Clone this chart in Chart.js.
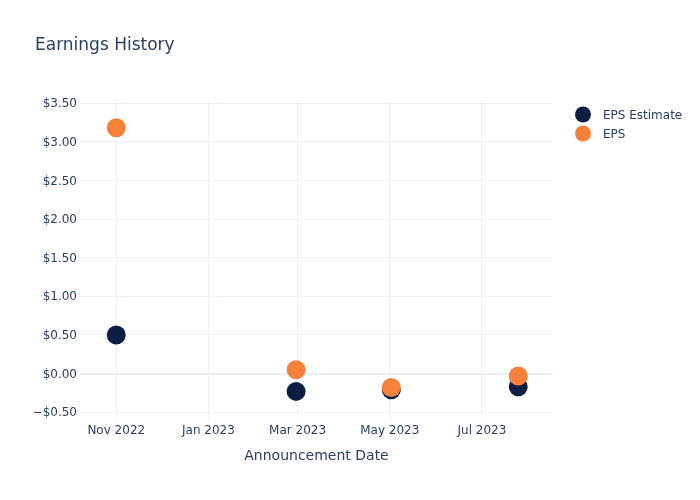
<!DOCTYPE html>
<html lang="en">
<head>
    <meta charset="UTF-8">
    <title>Earnings History</title>
    <script src="https://cdn.jsdelivr.net/npm/chart.js"></script>
    <style>
        body, html {
            margin: 0;
            padding: 0;
            background: #fff;
            overflow: hidden;
        }
        #wrap {
            width: 700px;
            height: 500px;
        }
    </style>
</head>
<body>
    <div id="wrap"><canvas id="epsChart"></canvas></div>

    <script>
        // announcement dates and values
        const estimateDates = ['2022-11-01', '2023-02-28', '2023-05-02', '2023-07-25'];
        const epsEstimate = [0.50, -0.23, -0.21, -0.17];
        const epsDates = ['2022-11-01', '2023-02-28', '2023-05-02', '2023-07-25'];
        const epsActual = [3.18, 0.05, -0.18, -0.03];

        const xTickDates = ['2022-11-01', '2023-01-01', '2023-03-01', '2023-05-01', '2023-07-01'];
        const monthNames = ['Jan', 'Feb', 'Mar', 'Apr', 'May', 'Jun', 'Jul', 'Aug', 'Sep', 'Oct', 'Nov', 'Dec'];
        const yTicks = [-0.5, 0, 0.5, 1, 1.5, 2, 2.5, 3, 3.5];

        const seriesNames = ['EPS Estimate', 'EPS'];
        const seriesColors = ['#0c1f43', '#f7803a'];

        const FONT = "'DejaVu Sans', sans-serif";
        const TEXT = '#2a3f5f';
        const GRID = '#ebf0f8';

        const ts = d => Date.parse(d + 'T00:00:00Z');

        function money(v) {
            const s = '$' + Math.abs(v).toFixed(2);
            return v < 0 ? '\u2212' + s : s;
        }

        function monthLabel(t) {
            const d = new Date(t);
            return monthNames[d.getUTCMonth()] + ' ' + d.getUTCFullYear();
        }

        const headerAndLegend = {
            id: 'headerAndLegend',
            afterDraw(chart) {
                const ctx = chart.ctx;
                ctx.save();
                ctx.fillStyle = TEXT;
                ctx.font = '17px ' + FONT;
                ctx.textBaseline = 'middle';
                ctx.textAlign = 'left';
                ctx.fillText('Earnings History', 35, 45.5);

                ctx.font = '12px ' + FONT;
                seriesNames.forEach((name, i) => {
                    const y = 114.5 + i * 19;
                    ctx.beginPath();
                    ctx.arc(583, y, 8, 0, Math.PI * 2);
                    ctx.fillStyle = seriesColors[i];
                    ctx.fill();
                    ctx.fillStyle = TEXT;
                    ctx.fillText(name, 603, y + 1);
                });
                ctx.restore();
            }
        };

        const ctx = document.getElementById('epsChart').getContext('2d');
        new Chart(ctx, {
            type: 'scatter',
            data: {
                datasets: [{
                    label: seriesNames[0],
                    data: estimateDates.map((d, i) => ({ x: ts(d), y: epsEstimate[i] })),
                    backgroundColor: seriesColors[0],
                    borderWidth: 0,
                    pointRadius: 9.5,
                    pointHoverRadius: 9.5,
                    order: 2
                }, {
                    label: seriesNames[1],
                    data: epsDates.map((d, i) => ({ x: ts(d), y: epsActual[i] })),
                    backgroundColor: seriesColors[1],
                    borderWidth: 0,
                    pointRadius: 9.5,
                    pointHoverRadius: 9.5,
                    order: 1
                }]
            },
            options: {
                responsive: true,
                maintainAspectRatio: false,
                animation: false,
                layout: {
                    padding: { left: 0, right: 147, top: 100, bottom: 0 }
                },
                scales: {
                    x: {
                        type: 'linear',
                        min: ts('2022-10-08'),
                        max: ts('2023-08-17'),
                        afterBuildTicks: axis => {
                            axis.ticks = xTickDates.map(d => ({ value: ts(d) }));
                        },
                        afterFit: axis => { axis.height = 80; },
                        border: { display: false },
                        grid: { color: GRID, drawTicks: false },
                        ticks: {
                            color: TEXT,
                            padding: 4,
                            maxRotation: 0,
                            autoSkip: false,
                            font: { family: FONT, size: 12 },
                            callback: v => monthLabel(v)
                        },
                        title: {
                            display: true,
                            text: 'Announcement Date',
                            color: TEXT,
                            font: { family: FONT, size: 14 },
                            padding: { top: 0, bottom: 35 }
                        }
                    },
                    y: {
                        min: -0.6,
                        max: 3.54,
                        afterBuildTicks: axis => {
                            axis.ticks = yTicks.map(v => ({ value: v }));
                        },
                        afterFit: axis => { axis.width = 80; },
                        border: { display: false },
                        grid: {
                            drawTicks: false,
                            color: c => GRID,
                            lineWidth: c => (c.tick && c.tick.value === 0 ? 2 : 1)
                        },
                        ticks: {
                            color: TEXT,
                            padding: 3,
                            labelOffset: 1,
                            font: { family: FONT, size: 12 },
                            callback: v => money(v)
                        }
                    }
                },
                plugins: {
                    legend: { display: false },
                    title: { display: false },
                    tooltip: { enabled: false }
                }
            },
            plugins: [headerAndLegend]
        });
    </script>
</body>
</html>
